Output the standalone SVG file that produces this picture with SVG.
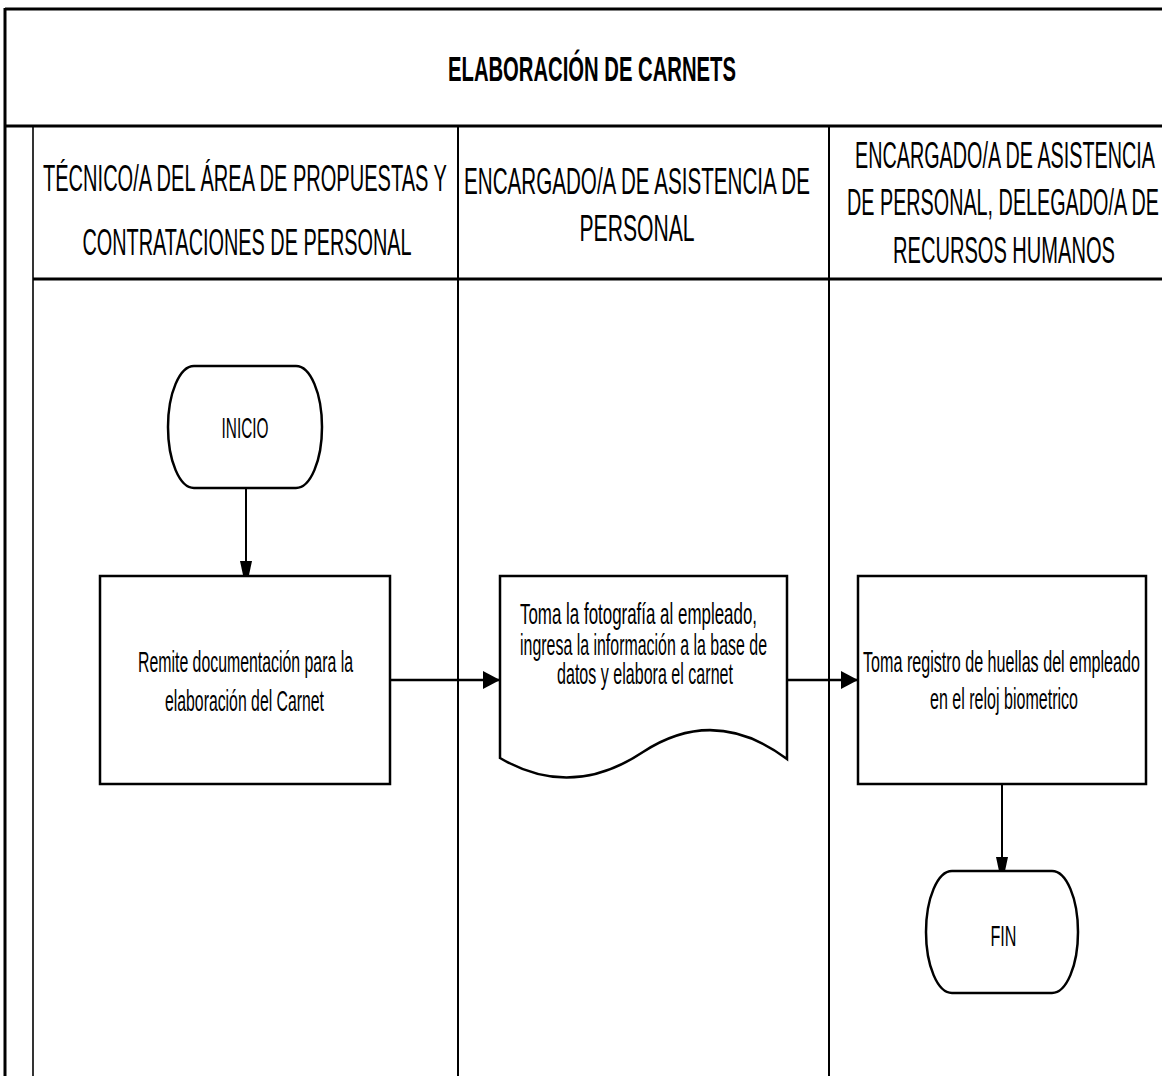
<svg xmlns="http://www.w3.org/2000/svg" width="1162" height="1076" viewBox="0 0 1162 1076">
  <style>
    .frame { stroke: #000; fill: none; }
    .thick { stroke-width: 3; }
    .thin { stroke-width: 1.6; }
    .mid { stroke-width: 2; }
    .shape { fill: #fff; stroke: #000; stroke-width: 2.5; }
    .hdr { font-family: "Liberation Sans", Arial, sans-serif; font-size: 36px; fill: #000; text-anchor: middle; }
    .title { font-family: "Liberation Sans", Arial, sans-serif; font-size: 35px; font-weight: bold; fill: #000; text-anchor: middle; }
    .lbl { font-family: "Liberation Sans", Arial, sans-serif; font-size: 29px; fill: #000; text-anchor: middle; }
    .conn { stroke: #000; stroke-width: 2; fill: none; }
    .connh { stroke: #000; stroke-width: 2.5; fill: none; }
  </style>
  <defs>
    <marker id="arrowV" markerUnits="userSpaceOnUse" markerWidth="14" markerHeight="28" viewBox="0 0 14 28" refX="14" refY="7" orient="auto">
      <path d="M0,1 L28,7 L0,13 Z" fill="#000"/>
    </marker>
    <marker id="arrowH" markerUnits="userSpaceOnUse" markerWidth="18" markerHeight="20" viewBox="0 0 18 20" refX="17" refY="10" orient="auto">
      <path d="M0,1 L17,10 L0,19 Z" fill="#000"/>
    </marker>
  </defs>

  <rect width="1162" height="1076" fill="#fff"/>

  <!-- swimlane frame -->
  <g id="frame">
    <line class="frame thick" x1="5" y1="9" x2="1162" y2="9"/>
    <line class="frame thick" x1="5" y1="8" x2="5" y2="1076"/>
    <line class="frame thick" x1="5" y1="126" x2="1162" y2="126"/>
    <line class="frame thin" x1="33" y1="126" x2="33" y2="1076"/>
    <line class="frame thick" x1="33" y1="279" x2="1162" y2="279"/>
    <line class="frame mid" x1="458" y1="126" x2="458" y2="1076"/>
    <line class="frame mid" x1="829" y1="126" x2="829" y2="1076"/>
  </g>

  <g id="title">
    <text class="title" x="592" y="81" textLength="288" lengthAdjust="spacingAndGlyphs">ELABORACIÓN DE CARNETS</text>
  </g>

  <g id="lane-tecnico">
    <text class="hdr" x="245" y="191" textLength="404" lengthAdjust="spacingAndGlyphs">TÉCNICO/A DEL ÁREA DE PROPUESTAS Y</text>
    <text class="hdr" x="247" y="255" textLength="329" lengthAdjust="spacingAndGlyphs">CONTRATACIONES DE PERSONAL</text>
  </g>

  <g id="lane-encargado">
    <text class="hdr" x="637" y="194" textLength="346" lengthAdjust="spacingAndGlyphs">ENCARGADO/A DE ASISTENCIA DE</text>
    <text class="hdr" x="637" y="241" textLength="115" lengthAdjust="spacingAndGlyphs">PERSONAL</text>
  </g>

  <g id="lane-delegado">
    <text class="hdr" x="1005" y="168" textLength="300" lengthAdjust="spacingAndGlyphs">ENCARGADO/A DE ASISTENCIA</text>
    <text class="hdr" x="1003" y="215" textLength="312" lengthAdjust="spacingAndGlyphs">DE PERSONAL, DELEGADO/A DE</text>
    <text class="hdr" x="1004" y="263" textLength="222" lengthAdjust="spacingAndGlyphs">RECURSOS HUMANOS</text>
  </g>

  <!-- connectors -->
  <g id="connectors">
    <line class="conn" x1="246" y1="488" x2="246" y2="575" marker-end="url(#arrowV)"/>
    <line class="connh" x1="390" y1="680" x2="500" y2="680" marker-end="url(#arrowH)"/>
    <line class="connh" x1="787" y1="680" x2="858" y2="680" marker-end="url(#arrowH)"/>
    <line class="conn" x1="1002" y1="784" x2="1002" y2="871" marker-end="url(#arrowV)"/>
  </g>

  <g id="inicio">
    <rect class="shape" x="168" y="366" width="154" height="122" rx="26" ry="61"/>
    <text class="lbl" x="245" y="438" textLength="47" lengthAdjust="spacingAndGlyphs">INICIO</text>
  </g>

  <g id="remite">
    <rect class="shape" x="100" y="576" width="290" height="208"/>
    <text class="lbl" x="245.5" y="672" textLength="215" lengthAdjust="spacingAndGlyphs">Remite documentación para la</text>
    <text class="lbl" x="244.5" y="711" textLength="159" lengthAdjust="spacingAndGlyphs">elaboración del Carnet</text>
  </g>

  <g id="fotografia">
    <path class="shape" d="M500,576 H787 V759 Q715,705 643,752 Q571,800 500,758 Z"/>
    <text class="lbl" x="638.5" y="624" textLength="237" lengthAdjust="spacingAndGlyphs">Toma la fotografía al empleado,</text>
    <text class="lbl" x="643.5" y="655" textLength="247" lengthAdjust="spacingAndGlyphs">ingresa la información a la base de</text>
    <text class="lbl" x="645" y="684" textLength="176" lengthAdjust="spacingAndGlyphs">datos y elabora el carnet</text>
  </g>

  <g id="huellas">
    <rect class="shape" x="858" y="576" width="288" height="208"/>
    <text class="lbl" x="1001.5" y="672" textLength="277" lengthAdjust="spacingAndGlyphs">Toma registro de huellas del empleado</text>
    <text class="lbl" x="1004" y="709" textLength="148" lengthAdjust="spacingAndGlyphs">en el reloj biometrico</text>
  </g>

  <g id="fin">
    <rect class="shape" x="926" y="871" width="152" height="122" rx="26" ry="61"/>
    <text class="lbl" x="1003.5" y="946" textLength="26" lengthAdjust="spacingAndGlyphs">FIN</text>
  </g>
</svg>
